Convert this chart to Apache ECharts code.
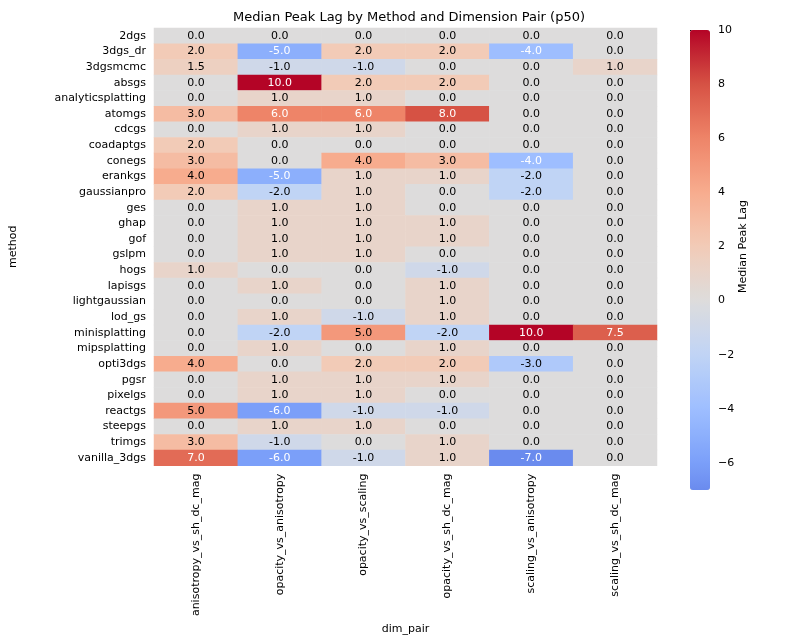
<!DOCTYPE html>
<html><head><meta charset="utf-8">
<script src="https://cdn.jsdelivr.net/npm/echarts@6/dist/echarts.min.js"></script>
<style>html,body{margin:0;padding:0;background:#fff}#c{width:800px;height:640px}</style>
</head><body><div id="c"></div>
<script>
const methods = ["2dgs","3dgs_dr","3dgsmcmc","absgs","analyticsplatting","atomgs","cdcgs","coadaptgs","conegs","erankgs","gaussianpro","ges","ghap","gof","gslpm","hogs","lapisgs","lightgaussian","lod_gs","minisplatting","mipsplatting","opti3dgs","pgsr","pixelgs","reactgs","steepgs","trimgs","vanilla_3dgs"];
const dimPairs = ["anisotropy_vs_sh_dc_mag","opacity_vs_anisotropy","opacity_vs_scaling","opacity_vs_sh_dc_mag","scaling_vs_anisotropy","scaling_vs_sh_dc_mag"];
const values = [
[0,0,0,0,0,0],
[2,-5,2,2,-4,0],
[1.5,-1,-1,0,0,1],
[0,10,2,2,0,0],
[0,1,1,0,0,0],
[3,6,6,8,0,0],
[0,1,1,0,0,0],
[2,0,0,0,0,0],
[3,0,4,3,-4,0],
[4,-5,1,1,-2,0],
[2,-2,1,0,-2,0],
[0,1,1,0,0,0],
[0,1,1,1,0,0],
[0,1,1,1,0,0],
[0,1,1,0,0,0],
[1,0,0,-1,0,0],
[0,1,0,1,0,0],
[0,0,0,1,0,0],
[0,1,-1,1,0,0],
[0,-2,5,-2,10,7.5],
[0,1,0,1,0,0],
[4,0,2,2,-3,0],
[0,1,1,1,0,0],
[0,1,1,0,0,0],
[5,-6,-1,-1,0,0],
[0,1,1,0,0,0],
[3,-1,0,1,0,0],
[7,-6,-1,1,-7,0]
];
const cbTicks = [-6,-4,-2,0,2,4,6,8,10];
const data = [];
values.forEach((row,i)=>row.forEach((v,j)=>data.push([j,i,v])));
const colors = ["#6a8bee","#7b9ff9","#8caffc","#9ebeff","#afc9fa","#c0d4f5","#cfd8e9","#dddcdc","#e8d4ca","#f2cbb7","#f5bca3","#f7ac8e","#f3987b","#ee8468","#e26b56","#d65244","#c52b35","#b40426"];
const chart = echarts.init(document.getElementById('c'));
const F = 'DejaVu Sans';
chart.setOption({
  textStyle:{fontFamily:F},
  title:{text:'Median Peak Lag by Method and Dimension Pair (p50)',left:404,top:6,textAlign:'center',textStyle:{fontFamily:F,fontSize:13,fontWeight:'normal',color:'#000'}},
  grid:[{left:150,right:143,top:28,bottom:150},{left:690,width:20,top:30,bottom:150}],
  xAxis:[{type:'category',data:dimPairs,gridIndex:0,name:'dim_pair',nameLocation:'middle',nameGap:130,nameTextStyle:{color:'#000',fontSize:11},
    axisLabel:{rotate:90,color:'#000',fontSize:11,interval:0},axisTick:{alignWithLabel:true,lineStyle:{color:'#000'}},axisLine:{show:false},splitLine:{show:false}},
    {type:'value',gridIndex:1,show:false,min:0,max:1}],
  yAxis:[{type:'category',data:methods,inverse:true,gridIndex:0,name:'method',nameLocation:'middle',nameGap:135,nameRotate:90,nameTextStyle:{color:'#000',fontSize:11},
    axisLabel:{color:'#000',fontSize:11,interval:0},axisTick:{alignWithLabel:true,lineStyle:{color:'#000'}},axisLine:{show:false}},
    {type:'value',gridIndex:1,min:-6,max:10,interval:2,position:'right',name:'Median Peak Lag',nameLocation:'middle',nameGap:28,nameRotate:90,nameTextStyle:{color:'#000',fontSize:11},
    axisLabel:{color:'#000',fontSize:11,formatter:v=>String(v).replace('-','\u2212')},
    axisTick:{show:true,lineStyle:{color:'#000'}},axisLine:{show:false},splitLine:{show:false}}],
  visualMap:{min:-7,max:10,calculable:false,show:true,left:690,top:30,itemWidth:20,itemHeight:460,text:['',''],showLabel:false,inRange:{color:colors},seriesIndex:0,padding:0,borderWidth:0},
  series:[{type:'heatmap',xAxisIndex:0,yAxisIndex:0,
    data:data.map(d=>{const v=d[2];return (v>=6||v<=-4)?{value:d,label:{color:'#fff'}}:{value:d};}),
    label:{show:true,fontSize:11,fontFamily:F,formatter:p=>p.value[2].toFixed(1),color:'#000'},
    itemStyle:{borderWidth:0}}]
});
// place colorbar axis: -7..10 range over 460px; shift grid so -6..10 spans matching portion
const pxPerUnit = 460/17;
chart.setOption({grid:[{},{top:30,height:16*pxPerUnit}]});
</script></body></html>
